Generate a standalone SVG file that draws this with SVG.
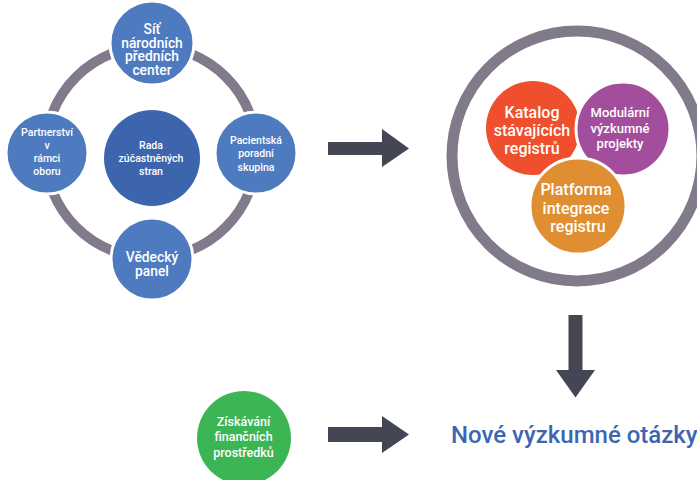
<svg xmlns="http://www.w3.org/2000/svg" width="697" height="480" viewBox="0 0 697 480">
<style>
text{font-family:Roboto,"Liberation Sans",sans-serif;font-weight:500;fill:#fff;text-anchor:middle}
.ring{fill:none;stroke:#807a8b}
.blue{fill:#4e7bbf;stroke:#fff;stroke-width:3}
.s{font-size:10.5px}
.m{font-size:13.8px}
.arrow{fill:#444753}
</style>
<rect width="697" height="480" fill="#fff"/>
<g id="connectors">
<circle class="ring" cx="151" cy="152" r="106" stroke-width="10"/>
<circle class="ring" cx="577" cy="156" r="125" stroke-width="11"/>
<polygon class="arrow" points="328,142 382,142 382,129 409,148.5 382,167 382,155 328,155"/>
<polygon class="arrow" points="568.5,315 582.5,315 582.5,370 595,370 575.5,397.5 556,370 568.5,370"/>
<polygon class="arrow" points="328,427 382,427 382,416 409,434.5 382,453 382,442 328,442"/>
</g>
<g id="n-top"><circle class="blue" cx="152" cy="43" r="42"/>
<text class="m" x="152" y="34">Síť</text><text class="m" x="152" y="47.5">národních</text><text class="m" x="152" y="61">předních</text><text class="m" x="152" y="74.5">center</text></g>
<g id="n-left"><circle class="blue" cx="47" cy="153" r="41"/>
<text class="s" x="47" y="136">Partnerství</text><text class="s" x="47" y="149">v</text><text class="s" x="47" y="162">rámci</text><text class="s" x="47" y="175">oboru</text></g>
<g id="n-right"><circle class="blue" cx="256" cy="153" r="41"/>
<text class="s" x="256" y="143.5">Pacientská</text><text class="s" x="256" y="157">poradní</text><text class="s" x="256" y="170.5">skupina</text></g>
<g id="n-bottom"><circle class="blue" cx="152" cy="259" r="41"/>
<text class="m" x="152" y="261.5">Vědecký</text><text class="m" x="152" y="275.5">panel</text></g>
<g id="n-center"><circle cx="152" cy="158" r="48" fill="#3d65ad"/>
<text class="s" x="151" y="149">Rada</text><text class="s" x="151" y="162">zúčastněných</text><text class="s" x="151" y="175">stran</text></g>
<g id="n-katalog"><circle cx="533" cy="128" r="47" fill="#ef4f2c"/>
<text x="532" y="118" font-size="16">Katalog</text><text x="532" y="136" font-size="16">stávajících</text><text x="532" y="154" font-size="16">registrů</text></g>
<g id="n-modular"><circle cx="623" cy="129" r="47" fill="#a34e9d" stroke="#fff" stroke-width="3"/>
<text x="620" y="117" font-size="13">Modulární</text><text x="620" y="132.5" font-size="13">výzkumné</text><text x="620" y="148" font-size="13">projekty</text></g>
<g id="n-platforma"><circle cx="578" cy="206" r="48" fill="#df8e31" stroke="#fff" stroke-width="3"/>
<text x="576" y="195" font-size="16">Platforma</text><text x="576" y="213.5" font-size="16">integrace</text><text x="578" y="232" font-size="16">registru</text></g>
<g id="n-funding"><circle cx="244" cy="438" r="47" fill="#3cb554"/>
<text x="243.5" y="425.5" font-size="12.5">Získávání</text><text x="243.5" y="441" font-size="12.5">finančních</text><text x="243.5" y="456.5" font-size="12.5">prostředků</text></g>
<g id="n-result"><text x="451" y="443" font-size="24" style="text-anchor:start;fill:#3c67b0">Nové výzkumné otázky</text></g>
</svg>
